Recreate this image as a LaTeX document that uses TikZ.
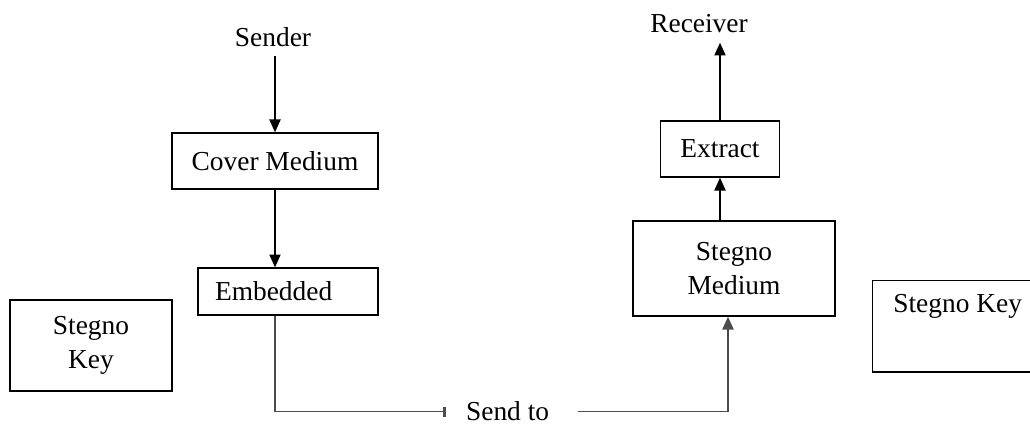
\documentclass[tikz,border=0pt]{standalone}
\usepackage{fontspec}
\setmainfont{Liberation Serif}
\usetikzlibrary{arrows.meta, positioning}

\begin{document}
\begin{tikzpicture}[
    font=\fontsize{19.5}{24}\selectfont,
    block/.style={rectangle, draw, line width=1pt, text centered, align=center},
    plain/.style={inner sep=0.23cm},
    flow/.style={draw, line width=1pt, -{Triangle[length=0.32cm, width=0.28cm]}},
    wire/.style={draw, line width=1pt, black!70}
]
\useasboundingbox (0,0) rectangle (25.75,-10.65);

% Sender side
\node[plain] (sender) at (6.825,-0.925) {Sender};
\node[block, minimum width=5.15cm, minimum height=1.4cm] (cover) at (6.875,-4.025) {Cover Medium};
\node[block, minimum width=4.5cm, minimum height=1.175cm, text width=3.65cm, inner xsep=0.425cm, align=left] (embedded) at (7.2,-7.2875) {Embedded};
\node[block, minimum width=4.05cm, minimum height=2.275cm] (keyleft) at (2.275,-8.6375) {Stegno\\Key};

% Receiver side
\node[block, minimum width=5.05cm, minimum height=2.375cm] (stegmed) at (18.35,-6.7125) {Stegno\\Medium};
\node[block, minimum width=2.975cm, minimum height=1.4cm] (extract) at (18.0,-3.725) {Extract};
\node[plain] (receiver) at (17.475,-0.6) {Receiver};
\node[block, anchor=north west, align=left, inner xsep=0.5cm, inner ysep=0.35cm, text depth=1.125cm, minimum width=4.25cm] (keyright) at (21.8,-7.0) {Stegno Key};

% Channel
\node[plain] (sendto) at (12.69,-10.29) {Send to};

% Connections
\draw[flow] (sender.south -| cover) -- (cover);
\draw[flow] (cover) -- (embedded.north -| cover);
\draw[wire, -{Bar[width=0.25cm, line width=2pt]}, shorten >=0.275cm] (embedded.south -| cover) |- (sendto.west);
\draw[wire, -{Triangle[length=0.32cm, width=0.28cm]}, shorten <=0.475cm] (sendto.east) -| ([xshift=-0.15cm]stegmed.south);
\draw[flow] (stegmed.north -| extract) -- (extract);
\draw[flow] (extract) -- (receiver.south -| extract);

\end{tikzpicture}
\end{document}
